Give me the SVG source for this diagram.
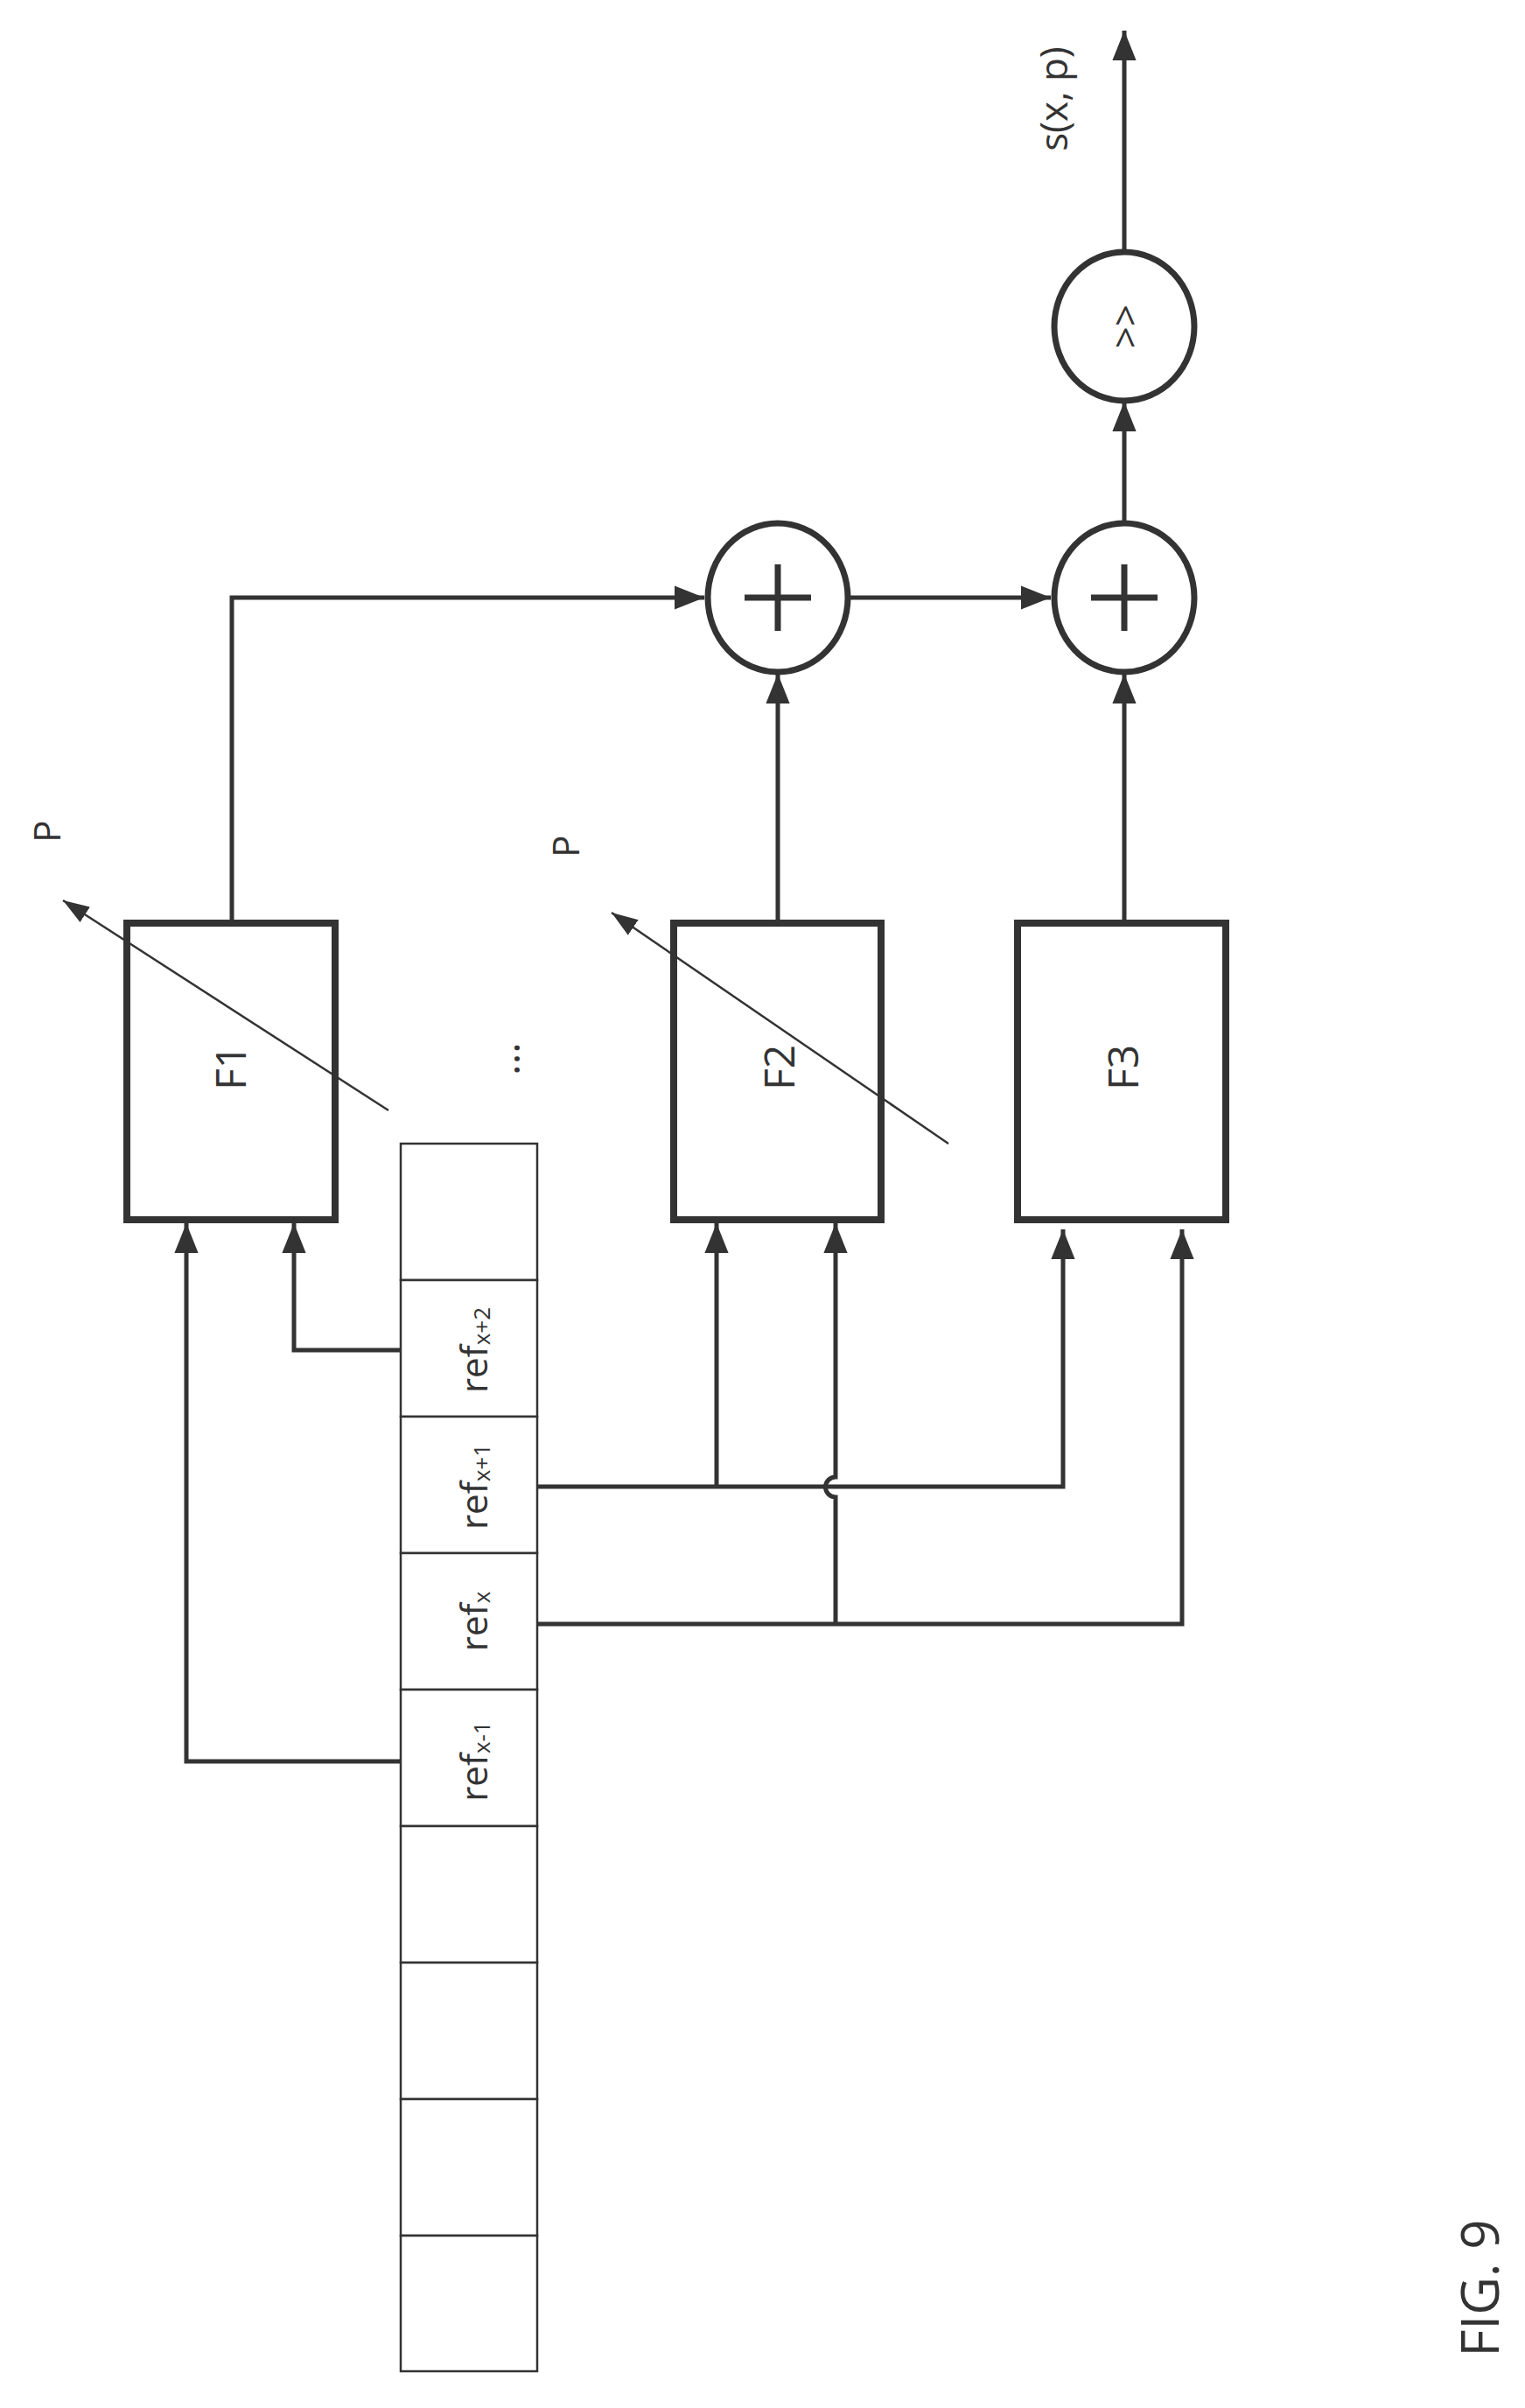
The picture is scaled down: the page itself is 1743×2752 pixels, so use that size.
<svg xmlns="http://www.w3.org/2000/svg" width="1743" height="2752" viewBox="0 0 1743 2752">
<style>
.box{fill:#fff;stroke:#333;stroke-width:8}
.op{fill:#fff;stroke:#333;stroke-width:7}
.cell{fill:#fff;stroke:#333;stroke-width:2.5}
.w{fill:none;stroke:#333;stroke-width:5}
.thin{fill:none;stroke:#333;stroke-width:2.5}
text{font-family:"Open Sans","DejaVu Sans",sans-serif;fill:#333;text-anchor:middle;dominant-baseline:central}
</style>
<defs>
<marker id="a" viewBox="0 0 10 10" refX="10" refY="5" markerWidth="34" markerHeight="34" markerUnits="userSpaceOnUse" orient="auto"><path d="M0,1 L10,5 L0,9 z" fill="#333"/></marker>
<marker id="b" viewBox="0 0 10 10" refX="10" refY="5" markerWidth="30" markerHeight="30" markerUnits="userSpaceOnUse" orient="auto"><path d="M0,1.5 L10,5 L0,8.5 z" fill="#333"/></marker>
</defs>
<g id="connectors">
<path class="w" d="M265,1055 V683 H805" marker-end="url(#a)"/>
<path class="w" d="M971,683 H1201" marker-end="url(#a)"/>
<path class="w" d="M889,1055 V770" marker-end="url(#a)"/>
<path class="w" d="M1285,1055 V770" marker-end="url(#a)"/>
<path class="w" d="M1285,601 V459" marker-end="url(#a)"/>
<path class="w" d="M1285,288 V35" marker-end="url(#a)"/>
<path class="w" d="M458,2013 H213 V1398" marker-end="url(#a)"/>
<path class="w" d="M458,1543 H336 V1398" marker-end="url(#a)"/>
<path class="w" d="M614,1699 H1215 V1405" marker-end="url(#a)"/>
<path class="w" d="M819,1699 V1398" marker-end="url(#a)"/>
<path class="w" d="M614,1856 H1351 V1405" marker-end="url(#a)"/>
<path class="w" d="M955,1856 V1711 A11,11 0 0 1 955,1688 V1398" marker-end="url(#a)"/>
</g>
<g id="F1"><rect class="box" x="145" y="1055" width="238" height="339"/><text transform="translate(262,1220) rotate(-90)" font-size="48">F1</text></g>
<g id="F2"><rect class="box" x="770" y="1055" width="237" height="339"/><text transform="translate(889,1220) rotate(-90)" font-size="48">F2</text></g>
<g id="F3"><rect class="box" x="1163" y="1055" width="238" height="339"/><text transform="translate(1282,1220) rotate(-90)" font-size="48">F3</text></g>
<g id="P1"><path class="thin" d="M444,1269 L72,1029" marker-end="url(#b)"/><text transform="translate(52,950) rotate(-90)" font-size="42">P</text></g>
<g id="P2"><path class="thin" d="M1084,1307 L699,1043" marker-end="url(#b)"/><text transform="translate(645,967) rotate(-90)" font-size="42">P</text></g>
<g id="dots"><text transform="translate(575,1210) rotate(-90)" font-size="48">...</text></g>
<g id="sum1"><ellipse class="op" cx="889" cy="683" rx="80" ry="85"/><path d="M889,645 V721 M851,683 H927" stroke="#333" stroke-width="7"/></g>
<g id="sum2"><ellipse class="op" cx="1285" cy="683" rx="80" ry="85"/><path d="M1285,645 V721 M1247,683 H1323" stroke="#333" stroke-width="7"/></g>
<g id="shift"><ellipse class="op" cx="1285" cy="373" rx="80" ry="85"/><text transform="translate(1285,373) rotate(-90)" font-size="44">&gt;&gt;</text></g>
<g id="out"><text transform="translate(1203,113) rotate(-90)" font-size="44">s(x, p)</text></g>
<g id="refarray">
<rect class="cell" x="458" y="1307" width="156" height="156"/>
<rect class="cell" x="458" y="1463" width="156" height="156"/>
<rect class="cell" x="458" y="1619" width="156" height="156"/>
<rect class="cell" x="458" y="1775" width="156" height="156"/>
<rect class="cell" x="458" y="1931" width="156" height="156"/>
<rect class="cell" x="458" y="2087" width="156" height="156"/>
<rect class="cell" x="458" y="2243" width="156" height="156"/>
<rect class="cell" x="458" y="2399" width="156" height="156"/>
<rect class="cell" x="458" y="2555" width="156" height="155"/>
<text transform="translate(540,1543) rotate(-90)" font-size="42">ref<tspan font-size="26" dy="10">x+2</tspan></text>
<text transform="translate(540,1699) rotate(-90)" font-size="42">ref<tspan font-size="26" dy="10">x+1</tspan></text>
<text transform="translate(540,1853) rotate(-90)" font-size="42">ref<tspan font-size="26" dy="10">x</tspan></text>
<text transform="translate(540,2013) rotate(-90)" font-size="42">ref<tspan font-size="26" dy="10">x-1</tspan></text>
</g>
<g id="caption"><text transform="translate(1690,2615) rotate(-90)" font-size="60">FIG. 9</text></g>
</svg>
